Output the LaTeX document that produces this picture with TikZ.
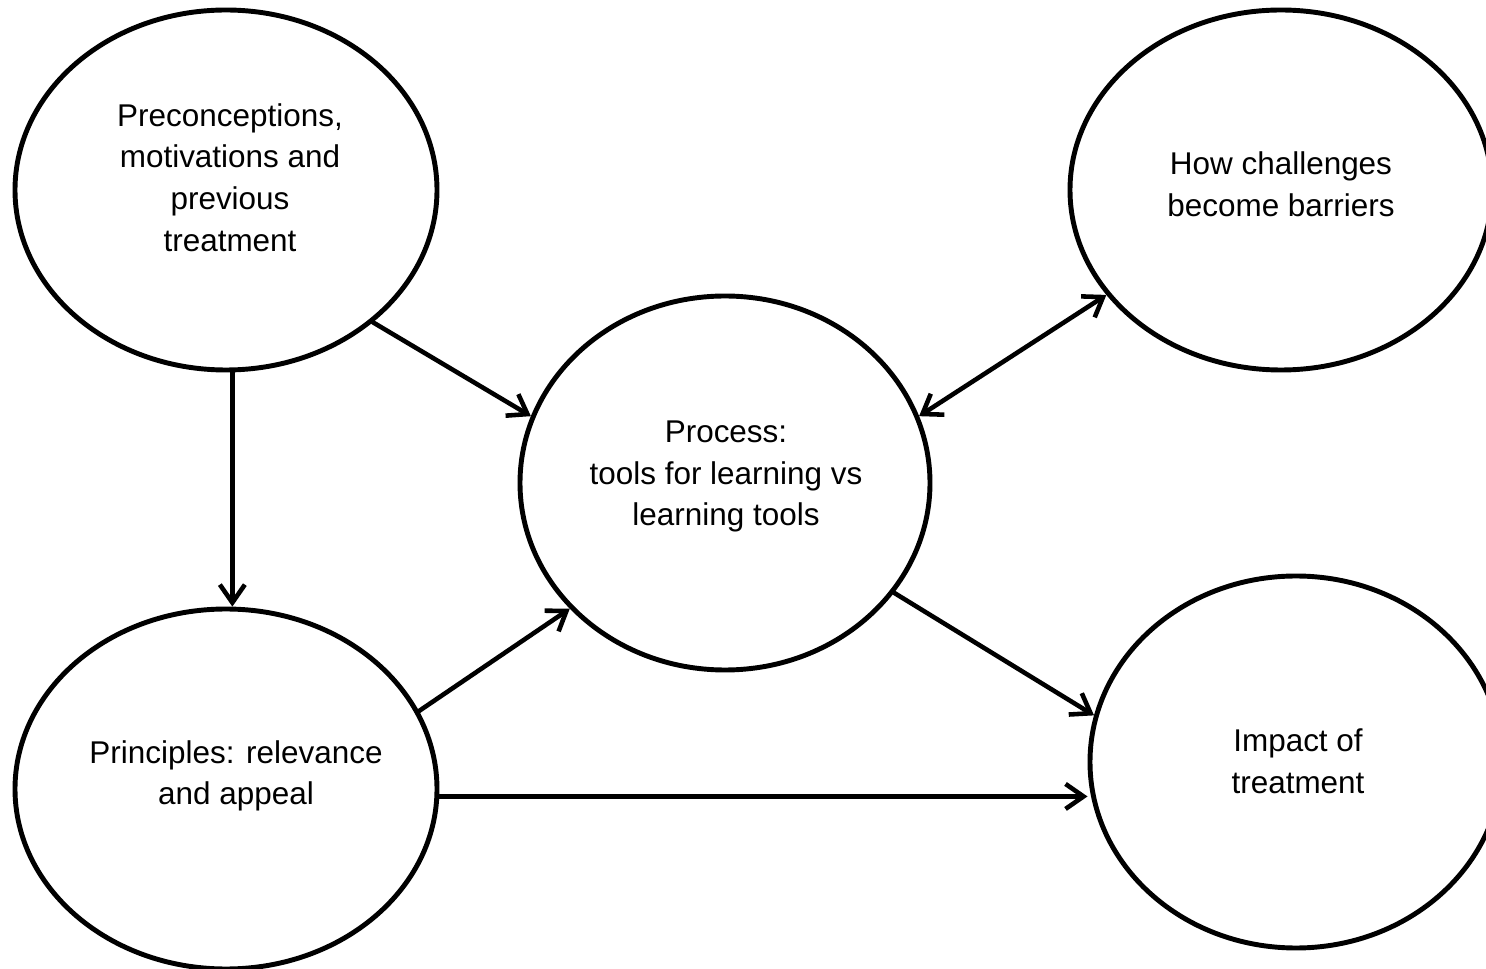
\documentclass[tikz,border=0pt]{standalone}
\usepackage{fontspec}
\setmainfont{Liberation Sans}
\usetikzlibrary{shapes.geometric,arrows.meta}

\begin{document}
\begin{tikzpicture}[
    >={Straight Barb[length=3.6mm,width=5mm]},
    bubble/.style={ellipse,draw,line width=2.8pt,inner sep=0pt},
    txt/.style={align=center,font=\fontsize{17.9}{23.7}\selectfont},
    link/.style={line width=2.6pt,line cap=round}]
  \useasboundingbox (0,0) rectangle (29.72,-19.38);
  % the five themes
  \node[bubble,minimum width=8.44cm,minimum height=7.20cm] (pre) at (4.52,-3.80) {};
  \node[bubble,minimum width=8.44cm,minimum height=7.20cm] (bar) at (25.62,-3.80) {};
  \node[bubble,minimum width=8.20cm,minimum height=7.48cm] (proc) at (14.50,-9.66) {};
  \node[bubble,minimum width=8.44cm,minimum height=7.20cm] (prin) at (4.52,-15.78) {};
  \node[bubble,minimum width=8.24cm,minimum height=7.44cm] (imp) at (25.92,-15.24) {};
  \node[txt] (pre-t) at (4.60,-3.55) {Preconceptions,\\motivations and\\previous\\treatment};
  \node[txt] (bar-t) at (25.62,-3.69) {How challenges\\become barriers};
  \node[txt] (proc-t) at (14.52,-9.53) {Process:\\tools for learning vs\\learning tools};
  \node[txt] (prin-t) at (4.72,-15.52) {Principles: relevance\\and appeal};
  \node[txt] (imp-t) at (25.96,-15.22) {Impact of\\treatment};
  % links
  \draw[link,->] (pre.-42) -- (proc.161);
  \draw[link,->] (pre.-88) -- (prin.88);
  \draw[link,->] (prin.22) -- (proc.219);
  \draw[link,->] (prin.-2) -- (prin.-2 -| imp.west);
  \draw[link,->] (proc.-33) -- (imp.167);
  \draw[link,<->] (proc.19) -- (bar.211);
\end{tikzpicture}
\end{document}
